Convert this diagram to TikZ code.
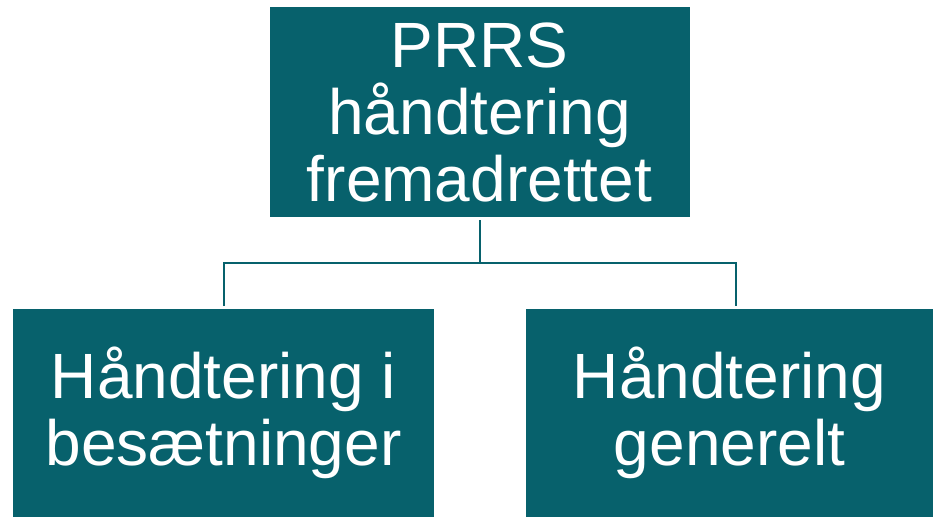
\documentclass[tikz,border=0pt]{standalone}
\usepackage{fontspec}
\setmainfont{Liberation Sans}
\definecolor{boxteal}{RGB}{7,97,108}
\tikzset{
  orgbox/.style={fill=boxteal, text=white, align=center, inner sep=0pt, font=\fontsize{64pt}{67pt}\selectfont},
  orgline/.style={draw=boxteal, line width=2pt}
}
\begin{document}
\begin{tikzpicture}[x=1pt,y=1pt]
\fill [color=white] (0, 0) rectangle (938, -517);

\node (top) at (479.5, -112) [orgbox, minimum width=420pt, minimum height=210pt] {PRRS\\håndtering\\fremadrettet};
\node (left) at (223.5, -413) [orgbox, minimum width=421pt, minimum height=208pt] {Håndtering i\\besætninger};
\node (right) at (729.5, -413) [orgbox, minimum width=407pt, minimum height=208pt] {Håndtering\\generelt};

\coordinate (jl) at (224, -306);
\coordinate (jr) at (736, -306);
\draw [orgline] ([yshift=-3pt]top.south) -- ++(0, -43) coordinate (split);
\draw [orgline] (jl) |- (split) -| (jr);
\end{tikzpicture}
\end{document}
